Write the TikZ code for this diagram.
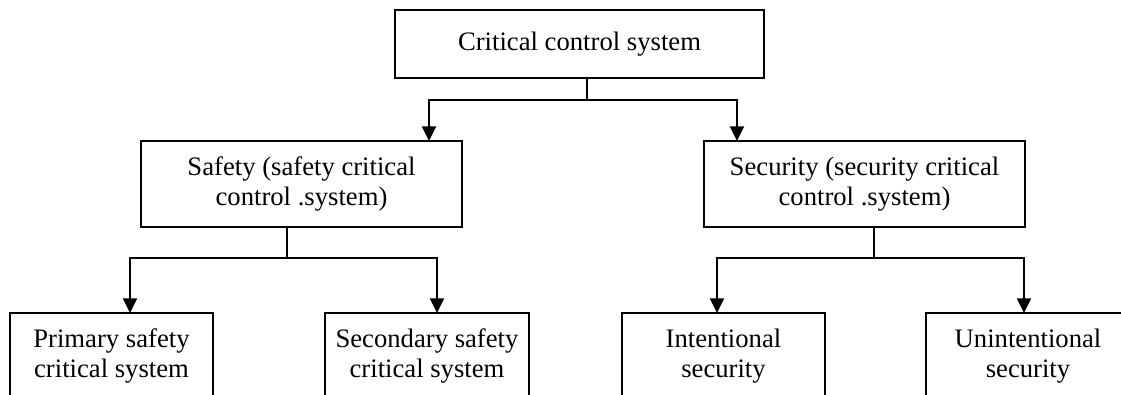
\documentclass[tikz,border=0pt]{standalone}
\usepackage{fontspec}
\setmainfont{Liberation Serif}
\usetikzlibrary{arrows.meta}
\begin{document}
\begin{tikzpicture}[x=0.75pt,y=-0.75pt,
  box/.style={draw,line width=1.5pt,inner sep=0pt,outer sep=0pt,align=center,
    font=\fontsize{20}{22.5}\selectfont,minimum height=64.5pt},
  link/.style={line width=1.5pt},
  arr/.style={line width=1.5pt,-{Triangle[width=10.5pt,length=11pt]}}]
\useasboundingbox (0,0) rectangle (1121,395);
\clip (0,0) rectangle (1121,395);
\node[box,minimum width=276.75pt,minimum height=51pt] (top) at (579.5,44) {Critical control system};
\node[box,minimum width=240.75pt] (safety) at (301.5,184) {Safety (safety critical\\control .system)};
\node[box,minimum width=240.75pt] (security) at (864.5,184) {Security (security critical\\control .system)};
\node[box,minimum width=152.25pt] (primary) at (111.5,356) {Primary safety\\critical system};
\node[box,minimum width=153pt] (secondary) at (427,356) {Secondary safety\\critical system};
\node[box,minimum width=152.25pt] (intent) at (723.5,356) {Intentional\\security};
\node[box,minimum width=153pt] (unintent) at (1028,356) {Unintentional\\security};
% top level
\coordinate (j1) at (587,100);
\coordinate (b1) at (429,100);
\coordinate (b2) at (737,100);
\draw[link] (top.south -| j1) -- (j1);
\draw[arr] (j1) -- (b1) -- (b1 |- safety.north);
\draw[arr] (j1) -- (b2) -- (b2 |- security.north);
% safety branch
\coordinate (j2) at (287,258);
\coordinate (b3) at (130,258);
\coordinate (b4) at (437,258);
\draw[link] (safety.south -| j2) -- (j2);
\draw[arr] (j2) -- (b3) -- (b3 |- primary.north);
\draw[arr] (j2) -- (b4) -- (b4 |- secondary.north);
% security branch
\coordinate (j3) at (874,258);
\coordinate (b5) at (717,258);
\coordinate (b6) at (1024,258);
\draw[link] (security.south -| j3) -- (j3);
\draw[arr] (j3) -- (b5) -- (b5 |- intent.north);
\draw[arr] (j3) -- (b6) -- (b6 |- unintent.north);
\end{tikzpicture}
\end{document}
